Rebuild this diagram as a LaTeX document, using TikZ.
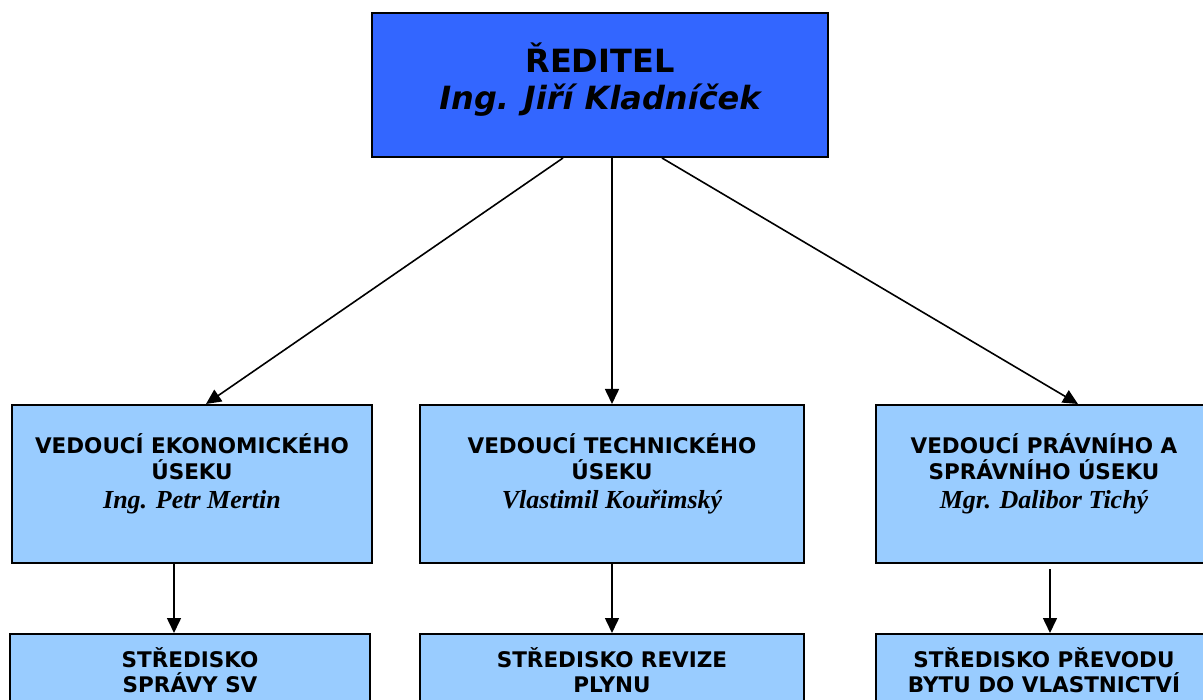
\documentclass[tikz,border=0pt]{standalone}
\usepackage{fontspec}
\setmainfont{Liberation Serif}
\newfontfamily\vfont{DejaVu Sans}
\usetikzlibrary{arrows.meta,calc}
\definecolor{topblue}{HTML}{3366FF}
\definecolor{lightblue}{HTML}{99CCFF}
\begin{document}
\begin{tikzpicture}[x=1pt,y=-1pt,
  box/.style={draw=black, line width=2pt, inner sep=0pt, rectangle},
  topbox/.style={box, fill=topblue, minimum width=456pt, minimum height=144pt},
  subbox/.style={box, fill=lightblue},
  conn/.style={line width=1.6pt, -{Triangle[length=15pt,width=14pt]}},
  toptitle/.style={font=\vfont\bfseries\fontsize{32}{37}\selectfont, inner sep=0pt, anchor=base},
  topname/.style={font=\vfont\bfseries\itshape\fontsize{32}{37}\selectfont, inner sep=0pt, anchor=base},
  head/.style={font=\vfont\bfseries\fontsize{21.5}{26}\selectfont, inner sep=0pt, anchor=base},
  pname/.style={font=\rmfamily\bfseries\itshape\fontsize{26}{28}\selectfont, inner sep=0pt, anchor=base}]
\clip (0,0) rectangle (1203,700);
\fill[white] (0,0) rectangle (1203,700);

% boxes
\node[topbox] (dir) at (600,85) {};
\node[subbox, minimum width=360pt, minimum height=158pt] (eko) at (192,484) {};
\node[subbox, minimum width=384pt, minimum height=158pt] (tech) at (612,484) {};
\node[subbox, minimum width=336pt, minimum height=158pt] (prav) at (1044,484) {};
\node[subbox, minimum width=360pt, minimum height=130pt] (ssv) at (190,699) {};
\node[subbox, minimum width=384pt, minimum height=130pt] (srp) at (612,699) {};
\node[subbox, minimum width=336pt, minimum height=130pt] (spb) at (1044,699) {};

% texts
\node[toptitle] (dirt) at (600,73) {ŘEDITEL};
\node[topname] (dirn) at (600,110) {Ing. Jiří Kladníček};

\node[head] (ekot1) at (192,454) {VEDOUCÍ EKONOMICKÉHO};
\node[head] (ekot2) at (192,480) {ÚSEKU};
\node[pname] (ekon) at (192,508) {Ing. Petr Mertin};

\node[head] (techt1) at (612,454) {VEDOUCÍ TECHNICKÉHO};
\node[head] (techt2) at (612,480) {ÚSEKU};
\node[pname] (techn) at (612,508) {Vlastimil Kouřimský};

\node[head] (pravt1) at (1044,454) {VEDOUCÍ PRÁVNÍHO A};
\node[head] (pravt2) at (1044,480) {SPRÁVNÍHO ÚSEKU};
\node[pname] (pravn) at (1044,508) {Mgr. Dalibor Tichý};

\node[head] (ssvt1) at (190,667) {STŘEDISKO};
\node[head] (ssvt2) at (190,692) {SPRÁVY SV};

\node[head] (srpt1) at (612,667) {STŘEDISKO REVIZE};
\node[head] (srpt2) at (612,692) {PLYNU};

\node[head] (spbt1) at (1044,667) {STŘEDISKO PŘEVODU};
\node[head] (spbt2) at (1044,692) {BYTU DO VLASTNICTVÍ};

% connectors
\coordinate (d1) at ($(dir.south)+(-37,0)$);
\coordinate (d2) at ($(dir.south)+(12,0)$);
\coordinate (d3) at ($(dir.south)+(62,0)$);
\coordinate (e1) at ($(eko.north)+(14,0)$);
\coordinate (e3) at ($(prav.north)+(34,0)$);
\draw[conn] (d1) -- (e1);
\draw[conn] (d2) -- (tech.north);
\draw[conn] (d3) -- (e3);

\coordinate (l1) at ($(eko.south)+(-18,0)$);
\coordinate (l1e) at ($(ssv.north)+(-16,0)$);
\draw[conn] (l1) -- (l1e);
\draw[conn] (tech.south) -- (srp.north);
\coordinate (r1) at ($(prav.south)+(6,5)$);
\coordinate (r1e) at ($(spb.north)+(6,0)$);
\draw[conn] (r1) -- (r1e);
\end{tikzpicture}
\end{document}
